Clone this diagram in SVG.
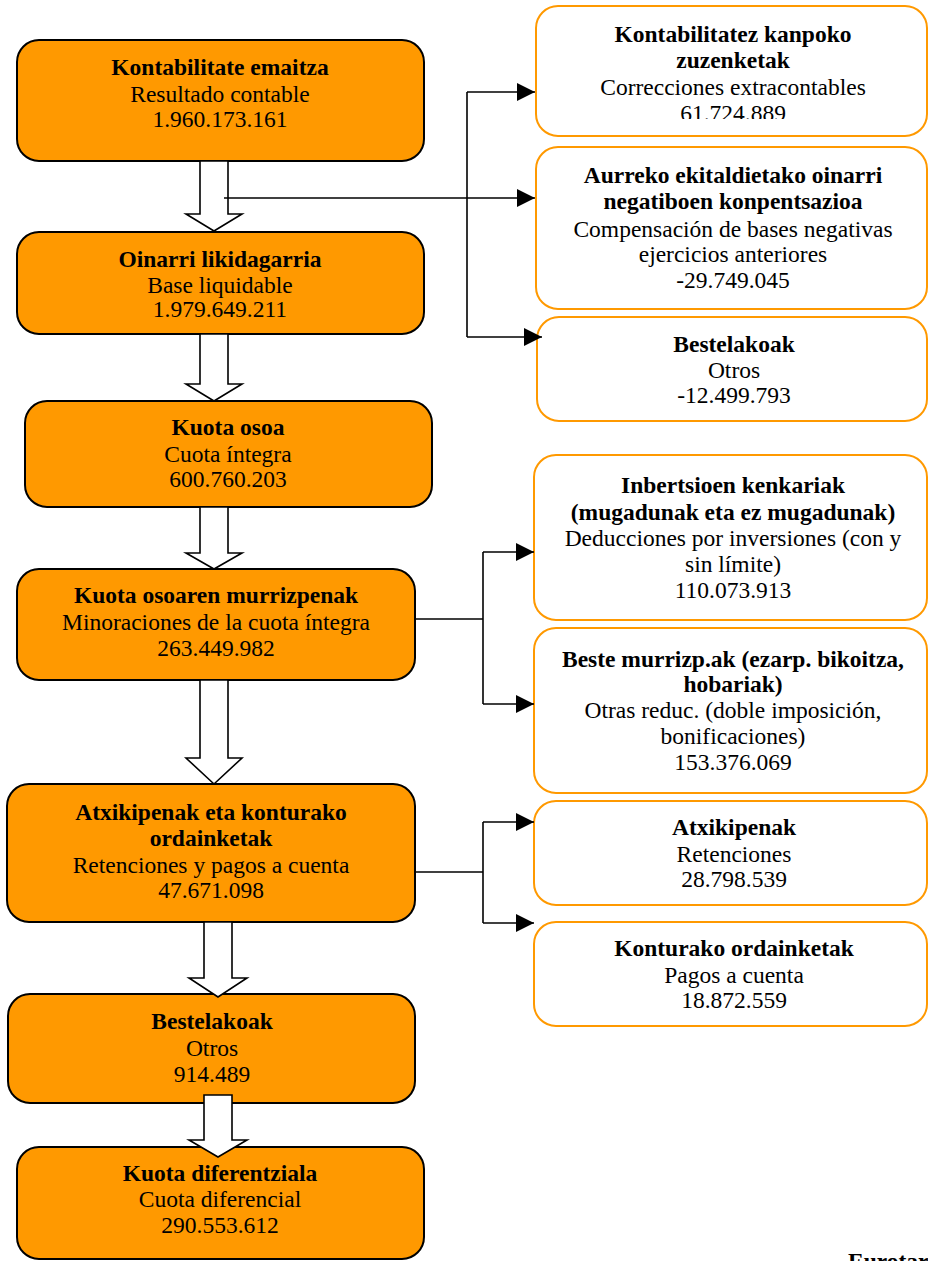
<svg xmlns="http://www.w3.org/2000/svg" width="928" height="1261" viewBox="0 0 928 1261">
<style>
.main{fill:#FF9900;stroke:#000;stroke-width:2}
.side{fill:#fff;stroke:#FF9900;stroke-width:2}
text{font-family:"Liberation Serif","Times New Roman",serif;font-size:23.5px;fill:#000;text-anchor:middle}
.b{font-weight:bold}
.blk{fill:#fff;stroke:#000;stroke-width:1.6}
.ln{fill:none;stroke:#000;stroke-width:1.6}
</style>
<defs>
<marker id="ah" markerWidth="18" markerHeight="18" refX="18" refY="9" orient="auto" markerUnits="userSpaceOnUse">
<path d="M0,0 L18,9 L0,18 Z" fill="#000"/>
</marker>
<clipPath id="c1"><rect x="536" y="0" width="392" height="119"/></clipPath>
</defs>
<rect width="928" height="1261" fill="#fff"/>

<g id="n1"><rect class="main" x="17" y="40" width="407" height="121" rx="22"/>
<text x="220" y="75" class="b">Kontabilitate emaitza</text>
<text x="220" y="102">Resultado contable</text>
<text x="220" y="127">1.960.173.161</text></g>

<g id="n2"><rect class="main" x="17" y="232" width="407" height="102" rx="22"/>
<text x="220" y="267" class="b">Oinarri likidagarria</text>
<text x="220" y="293">Base liquidable</text>
<text x="220" y="317">1.979.649.211</text></g>

<g id="n3"><rect class="main" x="25" y="401" width="407" height="106" rx="22"/>
<text x="228" y="435" class="b">Kuota osoa</text>
<text x="228" y="462">Cuota íntegra</text>
<text x="228" y="487">600.760.203</text></g>

<g id="n4"><rect class="main" x="17" y="569" width="398" height="111" rx="22"/>
<text x="216" y="603" class="b">Kuota osoaren murrizpenak</text>
<text x="216" y="630">Minoraciones de la cuota íntegra</text>
<text x="216" y="656">263.449.982</text></g>

<g id="n5"><rect class="main" x="7" y="784" width="408" height="138" rx="22"/>
<text x="211" y="820" class="b">Atxikipenak eta konturako</text>
<text x="211" y="846" class="b">ordainketak</text>
<text x="211" y="873">Retenciones y pagos a cuenta</text>
<text x="211" y="898">47.671.098</text></g>

<g id="n6"><rect class="main" x="8" y="994" width="407" height="109" rx="22"/>
<text x="212" y="1029" class="b">Bestelakoak</text>
<text x="212" y="1056">Otros</text>
<text x="212" y="1082">914.489</text></g>

<g id="n7"><rect class="main" x="17" y="1147" width="407" height="112" rx="22"/>
<text x="220" y="1181" class="b">Kuota diferentziala</text>
<text x="220" y="1207">Cuota diferencial</text>
<text x="220" y="1233">290.553.612</text></g>

<g id="r1"><rect class="side" x="536" y="6" width="391" height="130" rx="22"/>
<text x="733" y="42" class="b">Kontabilitatez kanpoko</text>
<text x="733" y="68" class="b">zuzenketak</text>
<text x="733" y="95">Correcciones extracontables</text>
<text x="733" y="121" clip-path="url(#c1)">61.724.889</text></g>

<g id="r2"><rect class="side" x="536" y="147" width="391" height="162" rx="22"/>
<text x="733" y="183" class="b">Aurreko ekitaldietako oinarri</text>
<text x="733" y="209" class="b">negatiboen konpentsazioa</text>
<text x="733" y="237">Compensación de bases negativas</text>
<text x="733" y="262">ejercicios anteriores</text>
<text x="733" y="288">-29.749.045</text></g>

<g id="r3"><rect class="side" x="537" y="317" width="390" height="104" rx="22"/>
<text x="734" y="352" class="b">Bestelakoak</text>
<text x="734" y="378">Otros</text>
<text x="734" y="403">-12.499.793</text></g>

<g id="r4"><rect class="side" x="534" y="455" width="393" height="165" rx="22"/>
<text x="733" y="493" class="b">Inbertsioen kenkariak</text>
<text x="733" y="520" class="b">(mugadunak eta ez mugadunak)</text>
<text x="733" y="546">Deducciones por inversiones (con y</text>
<text x="733" y="572">sin límite)</text>
<text x="733" y="598">110.073.913</text></g>

<g id="r5"><rect class="side" x="534" y="628" width="393" height="165" rx="22"/>
<text x="733" y="667" class="b">Beste murrizp.ak (ezarp. bikoitza,</text>
<text x="733" y="692" class="b">hobariak)</text>
<text x="733" y="718">Otras reduc. (doble imposición,</text>
<text x="733" y="744">bonificaciones)</text>
<text x="733" y="770">153.376.069</text></g>

<g id="r6"><rect class="side" x="534" y="801" width="393" height="104" rx="22"/>
<text x="734" y="835" class="b">Atxikipenak</text>
<text x="734" y="862">Retenciones</text>
<text x="734" y="887">28.798.539</text></g>

<g id="r7"><rect class="side" x="534" y="922" width="393" height="104" rx="22"/>
<text x="734" y="956" class="b">Konturako ordainketak</text>
<text x="734" y="983">Pagos a cuenta</text>
<text x="734" y="1008">18.872.559</text></g>

<g id="connectors">
<polygon class="blk" points="200,161 228,161 228,214 242,214 214,231 186,214 200,214"/>
<polygon class="blk" points="200,334 228,334 228,384 242,384 214,401 186,384 200,384"/>
<polygon class="blk" points="200,507 228,507 228,553 242,553 214,569 186,553 200,553"/>
<polygon class="blk" points="200,680 228,680 228,758 242,758 214,784 186,758 200,758"/>
<polygon class="blk" points="204,922 232,922 232,978 247,978 218,997 189,978 204,978"/>
<polygon class="blk" points="204,1095 232,1095 232,1140 247,1140 218,1157 189,1140 204,1140"/>
<line class="ln" x1="224" y1="198" x2="535" y2="198" marker-end="url(#ah)"/>
<line class="ln" x1="467" y1="92" x2="467" y2="337"/>
<line class="ln" x1="467" y1="92" x2="535" y2="92" marker-end="url(#ah)"/>
<line class="ln" x1="467" y1="337" x2="542" y2="337" marker-end="url(#ah)"/>
<line class="ln" x1="415" y1="619" x2="483" y2="619"/>
<line class="ln" x1="483" y1="552" x2="483" y2="704"/>
<line class="ln" x1="483" y1="552" x2="534" y2="552" marker-end="url(#ah)"/>
<line class="ln" x1="483" y1="704" x2="534" y2="704" marker-end="url(#ah)"/>
<line class="ln" x1="415" y1="872" x2="483" y2="872"/>
<line class="ln" x1="483" y1="822" x2="483" y2="923"/>
<line class="ln" x1="483" y1="822" x2="534" y2="822" marker-end="url(#ah)"/>
<line class="ln" x1="483" y1="923" x2="534" y2="923" marker-end="url(#ah)"/>
</g>

<text x="848" y="1269" class="b" style="text-anchor:start">Eurotar</text>
</svg>
